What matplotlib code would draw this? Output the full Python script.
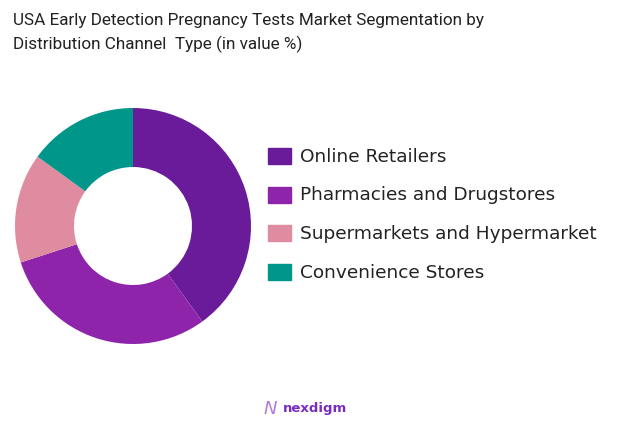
import matplotlib
matplotlib.use("Agg")
import matplotlib.pyplot as plt
from matplotlib.patches import Rectangle

W, H = 622, 427

channels = ["Online Retailers", "Pharmacies and Drugstores",
            "Supermarkets and Hypermarket", "Convenience Stores"]
shares = [40, 30, 15, 15]
colors = ["#6A1B9A", "#8E24AA", "#E08CA0", "#00968A"]

TITLE = ("USA Early Detection Pregnancy Tests Market Segmentation by\n"
         "Distribution Channel  Type (in value %)")

plt.rcParams["font.family"] = ["DejaVu Sans"]

fig = plt.figure(figsize=(W / 100, H / 100), dpi=100)

# donut: centre (133, 227) px, outer radius 118 px
cx, cy, r = 133, 227, 118
ax = fig.add_axes([(cx - r) / W, (H - cy - r) / H, 2 * r / W, 2 * r / H])
ax.pie(shares, colors=colors, startangle=90, counterclock=False,
       radius=1, wedgeprops=dict(width=0.5, linewidth=0))
ax.set_xlim(-1, 1)
ax.set_ylim(-1, 1)
ax.set_aspect("equal")
ax.axis("off")

fig.text(13 / W, 1 - 13 / H, TITLE, ha="left", va="top", fontsize=12.3,
         family="Roboto", color="#222222", linespacing=1.6)

# legend
for i, (lab, col) in enumerate(zip(channels, colors)):
    y = 157 + i * 38.5
    fig.patches.append(Rectangle((268 / W, 1 - (y + 8) / H), 23 / W, 16 / H,
                                 transform=fig.transFigure, color=col))
    fig.text(300 / W, 1 - y / H, lab, ha="left", va="center",
             fontsize=13.3, color="#222222")

# footer logo
fig.text(270 / W, 1 - 409 / H, "N", ha="center", va="center",
         fontsize=13, color="#B07CD8", fontweight="light", style="italic")
fig.text(283 / W, 1 - 409 / H, "nexdigm", ha="left", va="center",
         fontsize=9.5, color="#7B2CBF", fontweight="bold")

fig.savefig("out.png", dpi=100, facecolor="white")
